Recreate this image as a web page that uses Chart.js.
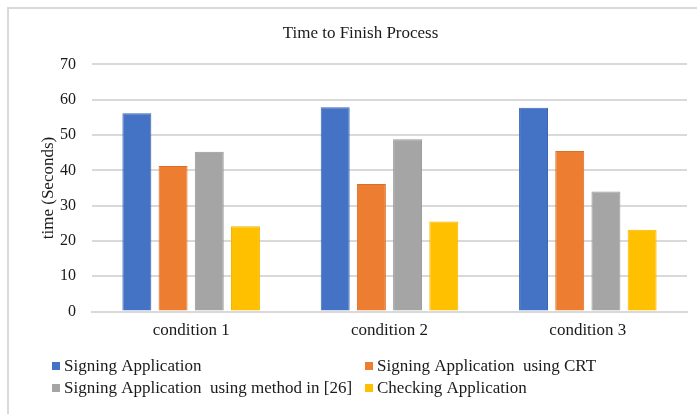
<!DOCTYPE html>
<html>
<head>
<meta charset="utf-8">
<script src="https://cdn.jsdelivr.net/npm/chart.js@4.4.0/dist/chart.umd.min.js"></script>
<style>
  html, body { margin: 0; padding: 0; background: #fff; }
  #wrap { position: relative; width: 697px; height: 414px; overflow: hidden; background: #fff; }
  #frame { position: absolute; left: 7px; top: 7px; width: 720px; height: 440px; border: 2px solid #d9d9d9; box-sizing: border-box; }
  #chart { position: absolute; left: 0; top: 0; }
</style>
</head>
<body>
<div id="wrap">
  <div id="frame"></div>
  <canvas id="chart" width="697" height="414"></canvas>
</div>
<script>
// Chart data
const conditions = ['condition 1', 'condition 2', 'condition 3'];
const seriesNames = [
    'Signing Application',
    'Signing Application  using CRT',
    'Signing Application  using method in [26]',
    'Checking Application'
];
const signingApp = [56.2, 57.9, 57.7];
const signingCRT = [41.2, 36.1, 45.5];
const signingMethod26 = [45.3, 48.8, 34.0];
const checkingApp = [24.2, 25.5, 23.2];
const yTicks = [0, 10, 20, 30, 40, 50, 60, 70];

const fillColors = ['#4472C4', '#ED7D31', '#A5A5A5', '#FFC000'];
const edgeColors = ['#3b65b3', '#dc6e25', '#979797', '#f2b600'];
const serif = 'Liberation Serif, Times New Roman, serif';

// Legend laid out in two columns like the original
const customLegend = {
    id: 'customLegend',
    afterDraw(chart) {
        const ctx = chart.ctx;
        const colX = [52, 365];
        const rowY = [366, 388];
        ctx.save();
        ctx.font = '17px ' + serif;
        ctx.textBaseline = 'middle';
        ctx.textAlign = 'left';
        chart.data.datasets.forEach((ds, i) => {
            const x = colX[i % 2];
            const y = rowY[Math.floor(i / 2)];
            ctx.fillStyle = ds.backgroundColor;
            ctx.fillRect(x, y - 4, 8, 8);
            ctx.fillStyle = '#1a1a1a';
            ctx.fillText(ds.label, x + 12, y + 1);
        });
        ctx.restore();
    }
};

const values = [signingApp, signingCRT, signingMethod26, checkingApp];
const datasets = values.map((v, i) => ({
    label: seriesNames[i],
    data: v,
    backgroundColor: fillColors[i],
    borderColor: edgeColors[i],
    borderWidth: 1,
    categoryPercentage: 0.73,
    barPercentage: 0.8
}));

new Chart(document.getElementById('chart'), {
    type: 'bar',
    data: { labels: conditions, datasets: datasets },
    options: {
        responsive: false,
        animation: false,
        layout: { padding: { left: 34, right: 10, top: 10, bottom: 64 } },
        plugins: {
            legend: { display: false },
            tooltip: { enabled: false },
            title: {
                display: true,
                text: 'Time to Finish Process',
                color: '#1a1a1a',
                font: { family: serif, size: 17, weight: 'normal' },
                padding: { top: 13, bottom: 21 }
            }
        },
        scales: {
            x: {
                grid: { display: false, drawTicks: false },
                border: { display: true, color: '#d9d9d9', width: 2 },
                ticks: { color: '#1a1a1a', font: { family: serif, size: 17 }, padding: 9 }
            },
            y: {
                min: 0,
                max: 70,
                afterBuildTicks: (scale) => { scale.ticks = yTicks.map(v => ({ value: v })); },
                afterFit: (scale) => { scale.width = 58; },
                grid: { color: '#d9d9d9', lineWidth: 2, drawTicks: false },
                border: { display: false },
                ticks: { color: '#1a1a1a', font: { family: serif, size: 16 }, padding: 16 },
                title: {
                    display: true,
                    text: 'time (Seconds)',
                    color: '#1a1a1a',
                    font: { family: serif, size: 17 },
                    padding: { top: 4, bottom: 4 }
                }
            }
        }
    },
    plugins: [customLegend]
});
</script>
</body>
</html>
